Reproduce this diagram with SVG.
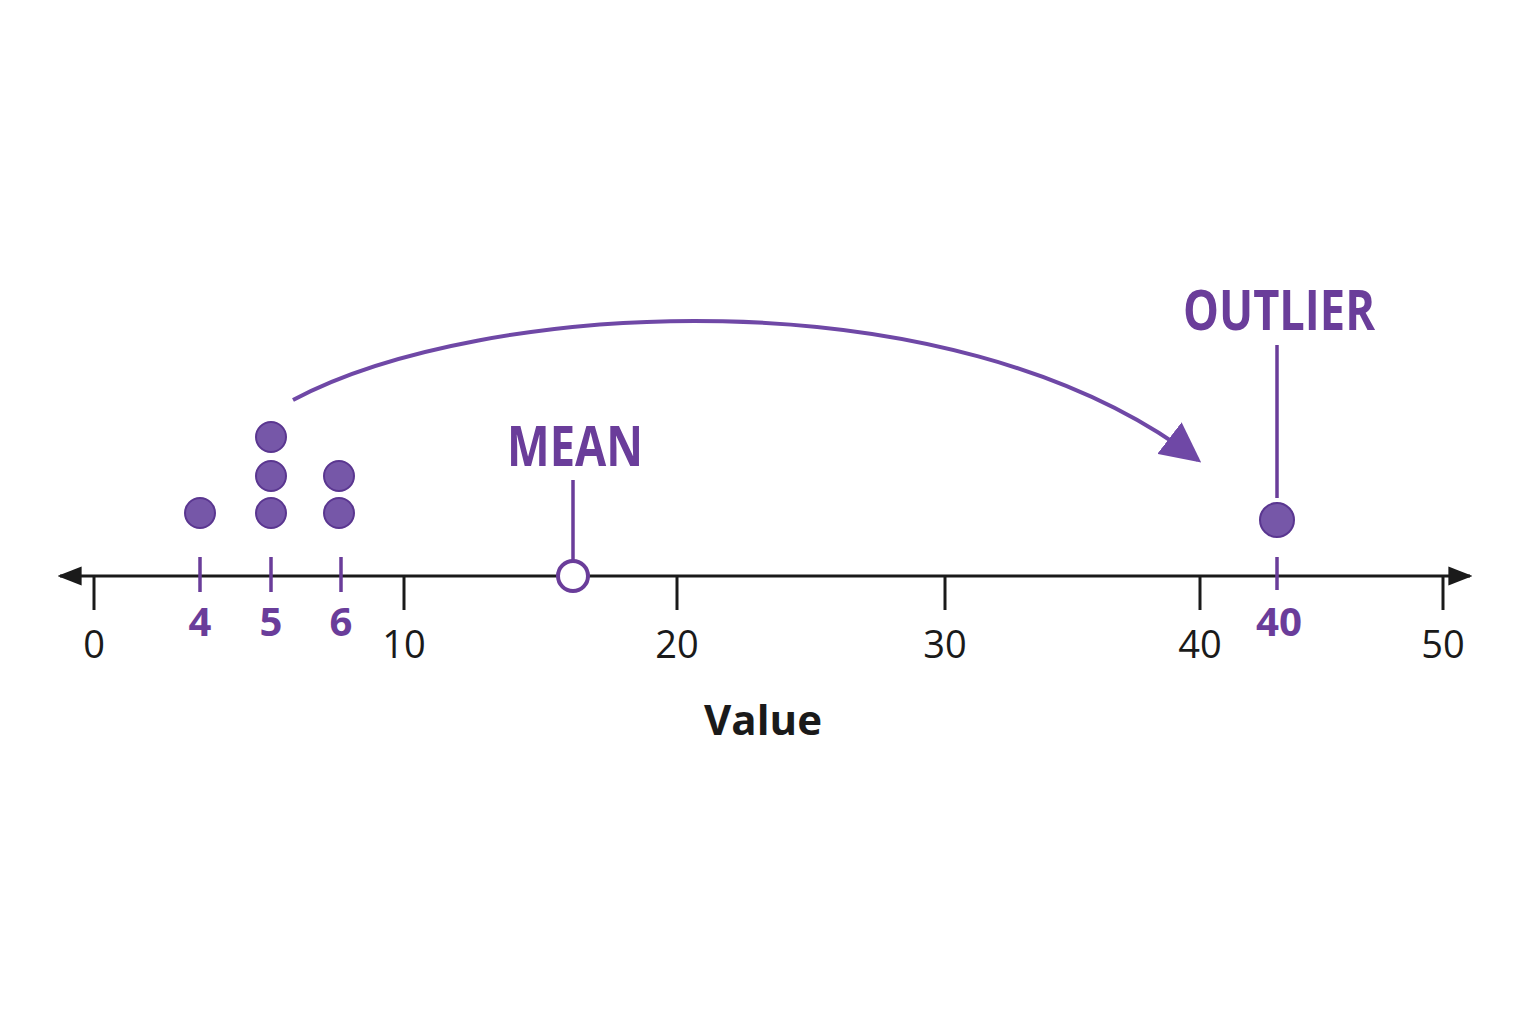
<svg xmlns="http://www.w3.org/2000/svg" width="1536" height="1024" viewBox="0 0 1536 1024">
<style>
.ax{stroke:#1a1a1a;stroke-width:3;fill:none}
.pt{stroke:#6a3d9a;stroke-width:3.5}
.dot{fill:#7657a8;stroke:#5a3690;stroke-width:2}
.num{font-family:"Open Sans","Noto Sans",sans-serif;font-size:38px;fill:#1a1a1a;text-anchor:middle}
.pn{font-family:"Open Sans","Noto Sans",sans-serif;font-size:40px;font-weight:bold;fill:#6a3d9a;text-anchor:middle}
.lab{font-family:"Open Sans","Noto Sans",sans-serif;font-size:56px;font-weight:bold;fill:#6a3d9a;text-anchor:middle}
</style>
<defs>
<marker id="ah" viewBox="0 0 10 10" refX="9" refY="5" markerWidth="10" markerHeight="10" orient="auto" markerUnits="strokeWidth"><path d="M0,0L10,5L0,10z" fill="#6f48a6"/></marker>
<marker id="axh" viewBox="0 0 10 10" refX="9" refY="5" markerWidth="8" markerHeight="8" orient="auto-start-reverse" markerUnits="strokeWidth"><path d="M0,1L10,5L0,9z" fill="#1a1a1a"/></marker>
</defs>
<rect width="1536" height="1024" fill="#fff"/>
<g id="axis">
<line class="ax" x1="60" y1="576" x2="1470" y2="576" marker-start="url(#axh)" marker-end="url(#axh)"/>
<g class="ax"><line x1="94" y1="576" x2="94" y2="610"/><line x1="404" y1="576" x2="404" y2="610"/><line x1="677" y1="576" x2="677" y2="610"/><line x1="945" y1="576" x2="945" y2="610"/><line x1="1200" y1="576" x2="1200" y2="610"/><line x1="1443" y1="576" x2="1443" y2="610"/></g>
<text class="num" x="94" y="658">0</text><text class="num" x="404" y="658">10</text><text class="num" x="677" y="658">20</text><text class="num" x="945" y="658">30</text><text class="num" x="1200" y="658">40</text><text class="num" x="1443" y="658">50</text>
<g class="pt"><line x1="200" y1="557" x2="200" y2="592"/><line x1="271" y1="557" x2="271" y2="592"/><line x1="341" y1="557" x2="341" y2="592"/><line x1="1277" y1="557" x2="1277" y2="590"/></g>
<text class="pn" x="200" y="636">4</text><text class="pn" x="271" y="636">5</text><text class="pn" x="341" y="636">6</text><text class="pn" x="1279" y="636" textLength="46" lengthAdjust="spacingAndGlyphs">40</text>
<text x="763" y="735" font-family="'Open Sans','Noto Sans',sans-serif" font-size="42" font-weight="bold" fill="#1a1a1a" text-anchor="middle">Value</text>
</g>
<g id="dots">
<circle class="dot" cx="200" cy="513" r="15"/><circle class="dot" cx="271" cy="513" r="15"/><circle class="dot" cx="271" cy="476" r="15"/><circle class="dot" cx="271" cy="437" r="15"/><circle class="dot" cx="339" cy="513" r="15"/><circle class="dot" cx="339" cy="476" r="15"/>
</g>
<g id="mean">
<line class="pt" x1="573" y1="480" x2="573" y2="561"/>
<circle cx="573" cy="576" r="15" fill="#fff" stroke="#6a3d9a" stroke-width="4"/>
<text class="lab" x="575" y="466" textLength="136" lengthAdjust="spacingAndGlyphs">MEAN</text>
</g>
<g id="outlier">
<line class="pt" x1="1277" y1="345" x2="1277" y2="498"/>
<circle class="dot" cx="1277" cy="520" r="17"/>
<text class="lab" x="1279" y="330" textLength="192" lengthAdjust="spacingAndGlyphs">OUTLIER</text>
</g>
<g id="connectors">
<path d="M293,400 C480,300 950,270 1198,460" fill="none" stroke="#6f48a6" stroke-width="4" marker-end="url(#ah)"/>
</g>
</svg>
